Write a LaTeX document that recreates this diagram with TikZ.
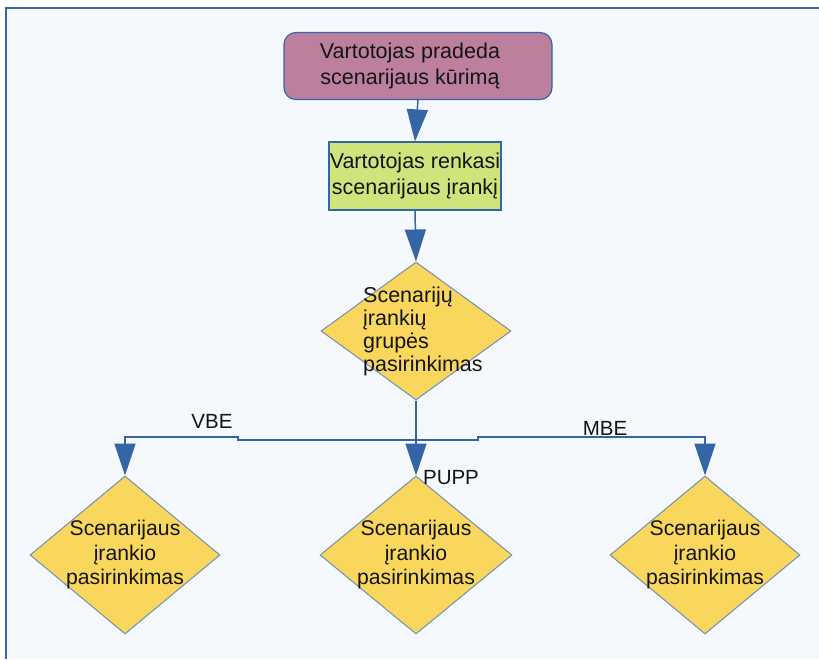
\documentclass[tikz,border=0pt]{standalone}
\usepackage{fontspec}
\setmainfont{Liberation Sans}
\usetikzlibrary{shapes.geometric,arrows.meta}
\definecolor{bgc}{HTML}{F5F8FC}
\definecolor{framec}{HTML}{3A66A8}
\definecolor{linec}{HTML}{3465A4}
\definecolor{mauve}{HTML}{BC7F9E}
\definecolor{lgreen}{HTML}{CFE47A}
\definecolor{dyellow}{HTML}{F8D75C}
\definecolor{dedge}{HTML}{7390B2}
\definecolor{txt}{HTML}{151515}
\tikzset{
  every node/.style={text=txt},
  bigtext/.style={font=\fontsize{21.5}{26}\selectfont},
  startbox/.style={draw=linec, line width=1.2pt, fill=mauve, rounded corners=12pt, minimum width=268pt, minimum height=67pt, inner sep=0pt},
  procbox/.style={draw=linec, line width=1.2pt, fill=lgreen, minimum width=172pt, minimum height=68pt, inner sep=0pt, align=center, bigtext},
  decbox/.style={draw=dedge, line width=1pt, fill=dyellow, diamond, inner sep=0pt},
  dectext/.style={align=center, inner sep=0pt, font=\fontsize{21.2}{24.5}\selectfont},
  flow/.style={draw=linec, line width=1.5pt, -{Triangle[width=21pt,length=32pt]}},
  plainflow/.style={draw=linec, line width=1.5pt},
  lbl/.style={font=\fontsize{20.5}{24}\selectfont, inner sep=0pt}
}
\begin{document}
\begin{tikzpicture}[x=1pt,y=-1pt]
\useasboundingbox (0,0) rectangle (819,659);
\fill[white] (0,0) rectangle (819,659);
\fill[bgc] (6,8) rectangle (819,659);
\draw[framec, line width=1.5pt] (6,659) -- (6,8) -- (819,8);

\node[startbox] (start) at (418,66) {};
\node[align=center, inner sep=0pt, bigtext] (starttext) at (410,66) {Vartotojas pradeda\\scenarijaus kūrimą};
\node[procbox] (tool) at (415,176) {Vartotojas renkasi\\scenarijaus įrankį};

\node[decbox, minimum width=190pt, minimum height=138pt] (grp) at (416,331) {};
\node[anchor=west, align=left, inner sep=0pt, font=\fontsize{21.5}{23}\selectfont] (grptext) at (363,331) {Scenarijų\\įrankių\\grupės\\pasirinkimas};

\node[decbox, minimum width=190pt, minimum height=158pt] (c1) at (125,555) {};
\node[decbox, minimum width=192pt, minimum height=158pt] (c2) at (416,555) {};
\node[decbox, minimum width=190pt, minimum height=158pt] (c3) at (705,555) {};
\node[dectext] (c1text) at (c1.center) {Scenarijaus\\įrankio\\pasirinkimas};
\node[dectext] (c2text) at (c2.center) {Scenarijaus\\įrankio\\pasirinkimas};
\node[dectext] (c3text) at (c3.center) {Scenarijaus\\įrankio\\pasirinkimas};

\draw[flow] (start.south) -- (tool.north);
\draw[flow] (tool.south) -- (grp.north);

\coordinate (jn) at (416,440);
\coordinate (jl1) at (238,440);
\coordinate (jl2) at (238,437);
\coordinate (jr1) at (478,440);
\coordinate (jr2) at (478,437);
\draw[plainflow] (grp.south) -- (jn);
\draw[flow] (jn) -- (jl1) -- (jl2) -| (c1.north);
\draw[flow] (grp.south) -- (c2.north);
\draw[flow] (jn) -- (jr1) -- (jr2) -| (c3.north);

\node[lbl] (vbe) at (212,421) {VBE};
\node[lbl] (mbe) at (605,428) {MBE};
\node[lbl] (pupp) at (451,478) {PUPP};
\end{tikzpicture}
\end{document}
